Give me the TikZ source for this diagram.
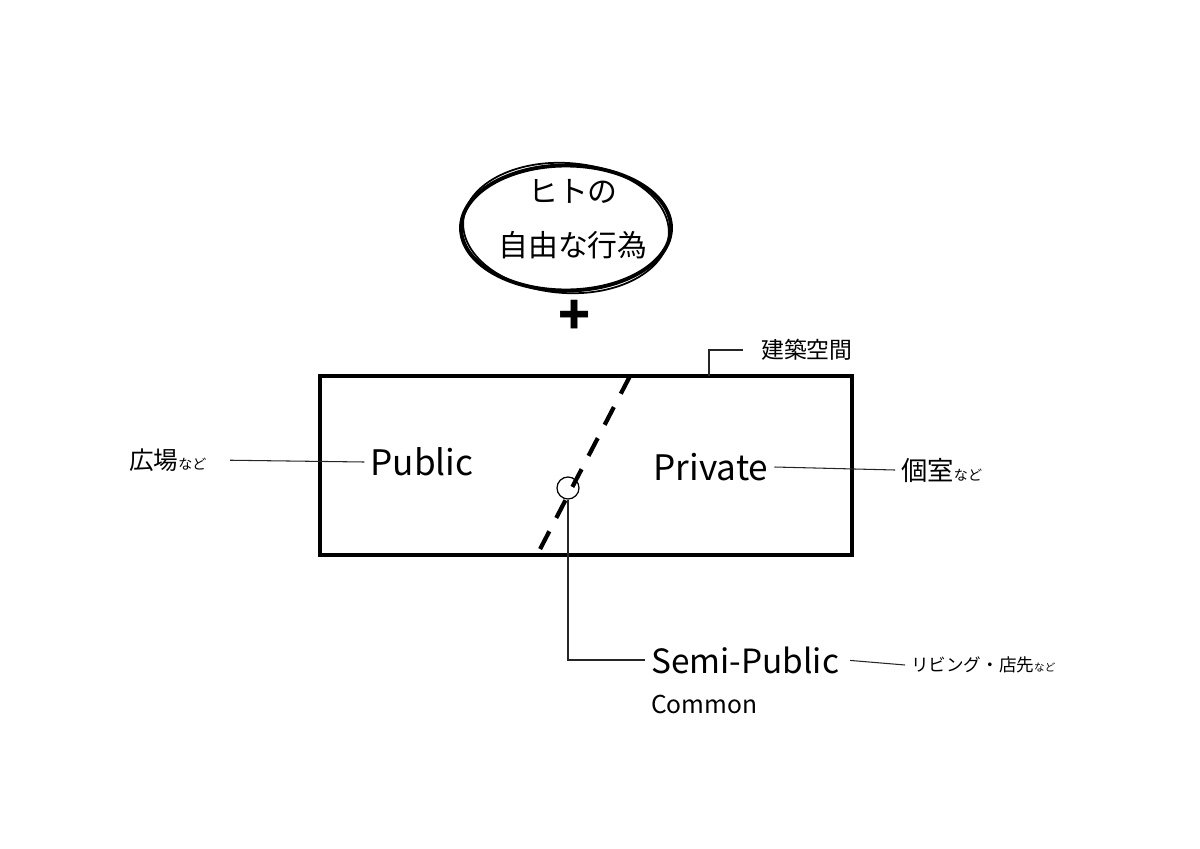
\documentclass[tikz,border=0pt]{standalone}
\usepackage{fontspec}
\setmainfont{Noto Sans CJK JP}
\usetikzlibrary{positioning,shapes.geometric}

\tikzset{
    leader/.style={line width=0.6pt, black!85},
    big/.style={font=\fontsize{20}{24}\selectfont},
}
\newcommand{\nado}[1]{{\fontsize{#1}{#1}\selectfont など}}

\begin{document}
\begin{tikzpicture}
    \useasboundingbox (0,0) rectangle (24,16.96);
    % Nodes
    \node[ellipse, draw, line width=2.2pt, minimum width=4.2cm, minimum height=2.5cm] (act) at (11.32,12.40) {};
    \draw[line width=1pt, rotate around={-4:(act.center)}] (act.center) ellipse (2.06cm and 1.3cm);
    \node[align=center, font=\fontsize{17}{31}\selectfont] (acttext) at (11.46,12.58) {ヒトの\\自由な行為};
    \node[font=\fontsize{30}{30}\selectfont\bfseries] (plus) at (11.5,10.62) {+};
    \node[draw, line width=2.5pt, minimum width=10.64cm, minimum height=3.58cm] (room) at (11.72,7.65) {};

    \node[big] (public) at (8.44,7.72) {Public};
    \node[big] (private) at (14.22,7.62) {Private};
    \node[anchor=west] (hiroba) at (2.46,7.76) {{\fontsize{14}{16}\selectfont 広場}\nado{8}};
    \node[anchor=west] (koshitsu) at (17.9,7.56) {{\fontsize{15}{16}\selectfont 個室}\nado{8}};
    \node[anchor=west, font=\fontsize{13}{15}\selectfont] (arch) at (15.1,9.96) {建築空間};

    \node[circle, draw, line width=0.7pt, minimum size=0.44cm, inner sep=0pt] (hub) at (11.36,7.2) {};
    \node[font=\fontsize{19}{24}\selectfont, anchor=west] (semi) at (12.9,3.76) {Semi-Public};
    \node[below=0.18cm of semi.south west, anchor=north west, font=\fontsize{14}{16}\selectfont] (common) {Common};
    \node[anchor=west] (living) at (18.1,3.66) {{\fontsize{10}{12}\selectfont リビング・店先}\nado{6}};

    \coordinate (dtop) at (12.60,9.44);
    \coordinate (dbot) at (10.74,5.86);
    \coordinate (roof) at (14.18,9.44);

    % Lines
    \draw[line width=2.4pt, dash pattern=on 0.4cm off 0.3cm] (dtop) -- (dbot);
    \draw[leader, shorten <=0.35cm] (hiroba.east) -- (public.west);
    \draw[leader] (private.east) -- (koshitsu.west);
    \draw[leader] (hub.south) |- (semi.west);
    \draw[leader, shorten <=0.1cm] (semi.east) -- (living.west);
    \draw[leader, shorten >=0.25cm] (roof) |- (arch.west);
\end{tikzpicture}
\end{document}
